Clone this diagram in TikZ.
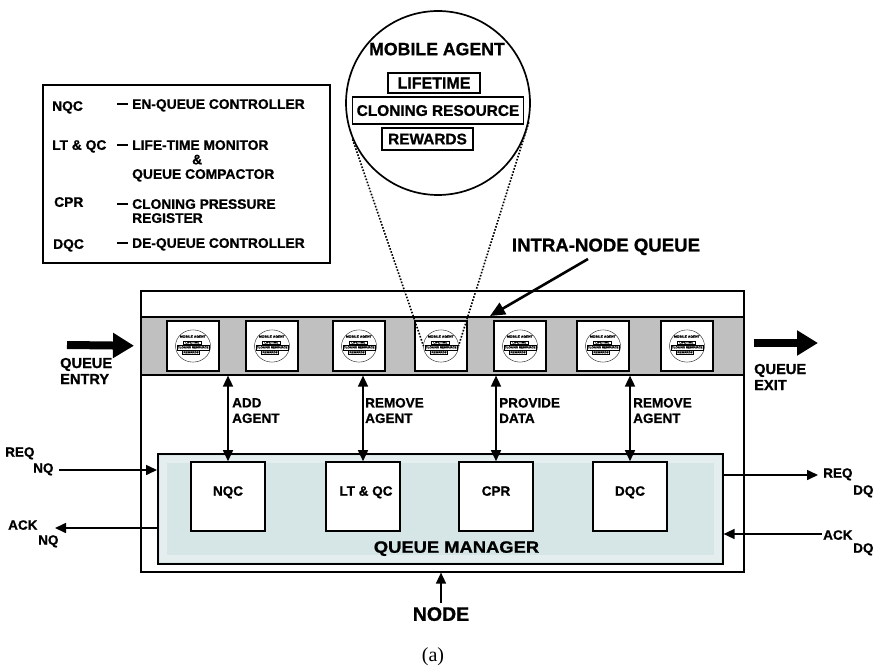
\documentclass[tikz,border=0pt]{standalone}
\usepackage{fontspec}
\setmainfont{Liberation Serif}
\setsansfont{Liberation Sans}[BoldFeatures={FakeBold=1.0}]
\newfontfamily\widesans{Liberation Sans}[FakeStretch=1.12, BoldFeatures={FakeBold=1.0}]
\usetikzlibrary{arrows.meta}
\definecolor{bandgray}{HTML}{C0C0C0}
\definecolor{qmfill}{HTML}{D6E6E6}
% short rule used as the dash between an abbreviation and its meaning
\newcommand\ldash{\makebox[15pt][l]{\rule[4.3pt]{11pt}{1.6pt}}}
\newcommand\lind[1]{\hspace*{#1}}

\tikzset{
  pics/agent/.style={code={
    \node[circle, draw, minimum size=184, inner sep=0pt, transform shape] (-c) at (0,0) {};
    \node[agtitle] (-t) at (-1,-54) {MOBILE AGENT};
    \node[agbox, minimum width=92, minimum height=20] (-l) at (-4,-20) {\fontsize{16pt}{18pt}\selectfont LIFETIME};
    \node[agbox, minimum width=171, minimum height=27] (-r) at (0,7.5) {CLONING RESOURCE};
    \node[agbox, minimum width=91, minimum height=22] (-w) at (-10.5,36) {REWARDS};
  }},
  agtitle/.style={transform shape, inner sep=0pt, text depth=0pt,
    font=\sffamily\bfseries\fontsize{17.7pt}{19pt}\selectfont},
  agbox/.style={draw, transform shape, inner sep=0pt, text depth=0pt,
    font=\sffamily\bfseries\fontsize{15.4pt}{17pt}\selectfont},
}

\begin{document}
\begin{tikzpicture}[x=1pt,y=-1pt,
  txt/.style={inner sep=0pt, text depth=0pt, align=left,
    font=\sffamily\bfseries\fontsize{13.5pt}{15.5pt}\selectfont},
  leg/.style={txt, anchor=west,
    font=\sffamily\bfseries\fontsize{13.8pt}{14.5pt}\selectfont},
  side/.style={txt, anchor=west},
  frame/.style={draw, line width=1.6pt, inner sep=0pt, anchor=north west},
  childbox/.style={draw, line width=1.6pt, fill=white, minimum width=74, minimum height=69, inner sep=0pt},
  qbox/.style={draw, line width=2.6pt, fill=white, minimum width=52, minimum height=50, inner sep=0pt},
  arr/.style={line width=1.6pt, -{Triangle[length=11pt,width=10pt]}},
  dbl/.style={line width=1.6pt, {Triangle[length=11pt,width=10pt]}-{Triangle[length=11pt,width=10pt]}},
  fat/.style={line width=8pt, -{Triangle[length=21pt,width=24pt]}},
  dotline/.style={line width=1.6pt, dash pattern=on 1.6pt off 1.6pt},
  halo/.style={draw=white, opacity=0.35, line width=7pt},
]
\useasboundingbox (0,0) rectangle (877,671);

% ---------- legend ----------
\node[frame, minimum width=287, minimum height=178] (legend) at (42,84) {};
\node[leg] (k1) at (52,106) {NQC};
\node[leg] (d1) at (117,104) {\ldash EN-QUEUE CONTROLLER};
\node[leg] (k2) at (52,145) {LT \& QC};
\node[leg] (d2) at (117,159.5) {\ldash LIFE-TIME MONITOR\\\lind{75pt}\&\\\lind{15pt}QUEUE COMPACTOR};
\node[leg] (k3) at (54,202) {CPR};
\node[leg, font=\sffamily\bfseries\fontsize{13.8pt}{14pt}\selectfont] (d3) at (117,211) {\ldash CLONING PRESSURE\\\lind{15pt}REGISTER};
\node[leg] (k4) at (53,244) {DQC};
\node[leg] (d4) at (117,243) {\ldash DE-QUEUE CONTROLLER};

% ---------- node frame, queue band, queue manager ----------
\node[frame, minimum width=603, minimum height=281] (nodebox) at (140,290) {};
\node[frame, fill=qmfill, minimum width=565, minimum height=110] (qm) at (157,453) {};
% soft light rim just inside the queue manager frame
\draw[halo] ([shift={(6pt,-6pt)}]qm.north west) rectangle ([shift={(-6pt,6pt)}]qm.south east);
\node[frame, fill=bandgray, minimum width=603, minimum height=58] (band) at (140,316) {};

\node[childbox] (nqc) at (228,496.5) {};
\node[childbox] (ltqc) at (363,496.5) {};
\node[childbox] (cpr) at (496,496.5) {};
\node[childbox] (dqc) at (630,496.5) {};
\node[txt, yshift=5.5pt] (nqct) at (nqc.center) {NQC};
\node[txt, yshift=5.5pt, xshift=3pt] (ltqct) at (ltqc.center) {LT \& QC};
\node[txt, yshift=5.5pt] (cprt) at (cpr.center) {CPR};
\node[txt, yshift=5.5pt] (dqct) at (dqc.center) {DQC};
\node[txt, font=\widesans\bfseries\fontsize{16.4pt}{18pt}\selectfont] (qmt) at (456.5,547) {QUEUE MANAGER};

% ---------- agents waiting in the queue ----------
\foreach \i/\x in {1/193,2/272,3/359,4/441,5/520,6/603,7/687} {
  \node[qbox] (b\i) at (\x,346) {};
  \pic[xscale=0.19, yscale=0.175, line width=0.35pt] (q\i) at (\x,346) {agent};
}

% ---------- enlarged mobile agent ----------
\pic[line width=1.7pt] (ma) at (438,103) {agent};
\draw[dotline] (ma-c.203) -- (q4-c.west);
\draw[dotline] (ma-c.348) -- (q4-c.east);

% ---------- intra-node queue callout ----------
\node[txt, font=\sffamily\bfseries\fontsize{18.6pt}{20pt}\selectfont] (inq) at (606,245) {INTRA-NODE QUEUE};
\coordinate (inqtail) at (588,259);
\coordinate (inqtip) at (490,316);
\draw[line width=2.6pt, -{Triangle[length=15pt,width=13pt]}] (inqtail) -- (inqtip);

% ---------- queue entry / exit ----------
\coordinate (qin) at (67,345);
\coordinate (qout) at (818,343);
\draw[fat, shorten >=6pt] (qin) -- (band.west);
\draw[fat, shorten <=9pt] (band.east |- qout) -- (qout);
\node[side, font=\sffamily\bfseries\fontsize{14.6pt}{16pt}\selectfont] (entry) at (60,371) {QUEUE\\ENTRY};
\node[side, font=\sffamily\bfseries\fontsize{14.6pt}{16pt}\selectfont] (exit) at (754,377) {QUEUE\\EXIT};

% ---------- band <-> controllers ----------
\draw[dbl] (nqc.north |- band.south) -- (nqc.north);
\draw[dbl] (ltqc.north |- band.south) -- (ltqc.north);
\draw[dbl] (cpr.north |- band.south) -- (cpr.north);
\draw[dbl] (dqc.north |- band.south) -- (dqc.north);
\node[side] (l1) at (232,410.5) {ADD\\AGENT};
\node[side] (l2) at (365,410.5) {REMOVE\\AGENT};
\node[side] (l3) at (499,410.5) {PROVIDE\\DATA};
\node[side] (l4) at (633,410.5) {REMOVE\\AGENT};

% ---------- external requests and acknowledgements ----------
\coordinate (rqn) at (59,470);
\draw[arr] (rqn) -- (rqn -| qm.west);
\node[side] (rqn1) at (5,452) {REQ};
\node[side] (rqn2) at (33,468) {NQ};

\coordinate (akn) at (55,528);
\draw[arr] (akn -| qm.west) -- (akn);
\node[side] (akn1) at (8,525) {ACK};
\node[side] (akn2) at (38,540) {NQ};

\coordinate (rqd) at (818,475);
\draw[arr] (rqd -| qm.east) -- (rqd);
\node[side] (rqd1) at (823,473) {REQ};
\node[side] (rqd2) at (853,490) {DQ};

\coordinate (akd) at (822,534);
\draw[arr] (akd) -- (akd -| qm.east);
\node[side] (akd1) at (823,535) {ACK};
\node[side] (akd2) at (853,548) {DQ};

% ---------- node input ----------
\node[txt, font=\sffamily\bfseries\fontsize{19.5pt}{21pt}\selectfont] (nodelbl) at (441,614) {NODE};
\draw[arr, shorten <=4pt] (nodelbl.north) -- (nodelbl.north |- nodebox.south);

% ---------- caption ----------
\node[inner sep=0pt, font=\fontsize{20pt}{22pt}\selectfont] (caption) at (433,657) {(a)};
\end{tikzpicture}
\end{document}
